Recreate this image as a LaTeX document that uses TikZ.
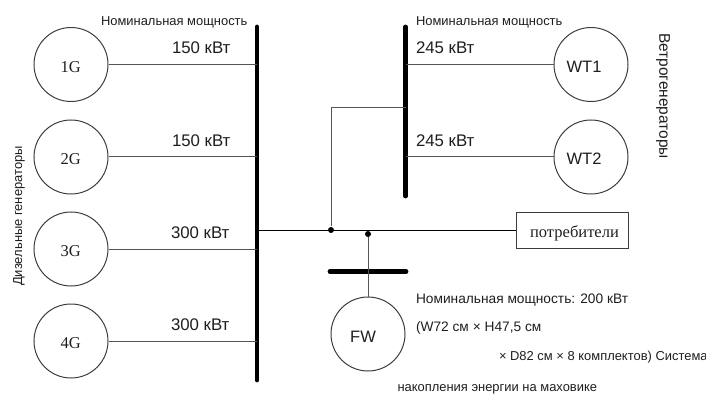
\documentclass[tikz,border=0pt]{standalone}
\usepackage{fontspec}
\setmainfont{Liberation Sans}
\newfontfamily\romanfont{Liberation Serif}

\tikzset{every picture/.style={line width=0.75pt}}
\tikzset{
  wire/.style={draw={rgb, 255:red, 85; green, 85; blue, 85}},
  bus/.style={line width=3.6pt,line cap=round},
  machine/.style={circle,draw={rgb, 255:red, 60; green, 60; blue, 60},minimum size=55.5pt,inner sep=0pt},
  mark text/.style={inner sep=0.75pt,text={rgb, 255:red, 30; green, 30; blue, 30},font=\fontsize{12.4}{14}\selectfont},
  dot/.style={circle,fill=black,inner sep=0pt,minimum size=4.5pt},
  power/.style={anchor=west,inner sep=0.75pt,text={rgb, 255:red, 30; green, 30; blue, 30},font=\fontsize{12.6}{14}\selectfont},
  note/.style={anchor=west,inner sep=0.75pt,text={rgb, 255:red, 30; green, 30; blue, 30},font=\fontsize{9.7}{11}\selectfont},
}

\begin{document}
\begin{tikzpicture}[x=0.75pt,y=0.75pt,yscale=-1,xscale=1]
\useasboundingbox (0,0) rectangle (706,395);

%Bus bars
\draw [bus] (257,27) coordinate (busG) -- (257,380) ;
\draw [bus] (405.5,27) coordinate (busW) -- (405.5,196) ;
\draw [bus] (330,271.5) coordinate (busFW) -- (406,271.5) ;

%Machines
\draw (71,64.5) node [machine] (g1) {};
\draw (71,157) node [machine] (g2) {};
\draw (71,249) node [machine] (g3) {};
\draw (71,341) node [machine] (g4) {};
\draw (591,64.5) node [machine] (wt1) {};
\draw (591,157) node [machine] (wt2) {};
\draw (368,334) node [machine] (fw) {};

%Consumer box
\draw (572,230.5) node [draw={rgb, 255:red, 60; green, 60; blue, 60},minimum width=84pt,minimum height=27.5pt,inner sep=0pt] (load) {};

%Straight Lines
\draw [wire] (g1) -- (g1 -| busG) ;
\draw [wire] (g2) -- (g2 -| busG) ;
\draw [wire] (g3) -- (g3 -| busG) ;
\draw [wire] (g4) -- (g4 -| busG) ;
\draw [wire] (wt1) -- (wt1 -| busW) ;
\draw [wire] (wt2) -- (wt2 -| busW) ;

%Main line and junctions
\draw (load.west) -- (load.west -| busG) ;
\draw (331,230) node [dot] (jW) {};
\draw (368,234) node [dot] (jFW) {};
\draw [wire] (jW) -- (331,108) -- (405.5,108) ;
\draw [wire] (jFW) -- (fw) ;

% Text Node
\draw (70.7,67.5) node [mark text] (t1) {\romanfont 1G};
\draw (70.7,159.5) node [mark text] (t2) {\romanfont 2G};
\draw (70.7,251) node [mark text] (t3) {\romanfont 3G};
\draw (70.7,343) node [mark text] (t4) {\romanfont 4G};
\draw (584,67) node [mark text] (t5) {WT1};
\draw (584,159) node [mark text] (t6) {WT2};
\draw (363,337) node [mark text] (t7) {FW};
\draw (574.5,233.5) node [mark text] (t8) {\romanfont потребители};
\draw (99.5,22.5) node [note] (capG) {Номинальная мощность};
\draw (414.5,22.5) node [note] (capW) {Номинальная мощность};
\draw (170.5,48) node [power] (p1) {150 кВт};
\draw (170.5,141) node [power] (p2) {150 кВт};
\draw (169.5,233) node [power] (p3) {300 кВт};
\draw (169.5,325) node [power] (p4) {300 кВт};
\draw (414.5,48) node [power] (p5) {245 кВт};
\draw (414.5,141) node [power] (p6) {245 кВт};
\draw (663,96) node [note,anchor=center,rotate=-90,font=\fontsize{11.6}{13}\selectfont] (capWT) {Ветрогенераторы};
\draw (19,216) node [note,anchor=center,rotate=90] (capDG) {Дизельные генераторы};
\draw (414.5,300) node [note,font=\fontsize{10.3}{12}\selectfont] (fw1) {Номинальная мощность: 200 кВт};
\draw (414.5,328) node [note,font=\fontsize{10.3}{12}\selectfont] (fw2) {(W72 см × H47,5 см};
\draw (497.5,357) node [note] (fw3) {× D82 см × 8 комплектов) Система};
\draw (396,389) node [note] (fw4) {накопления энергии на маховике};

\end{tikzpicture}
\end{document}
